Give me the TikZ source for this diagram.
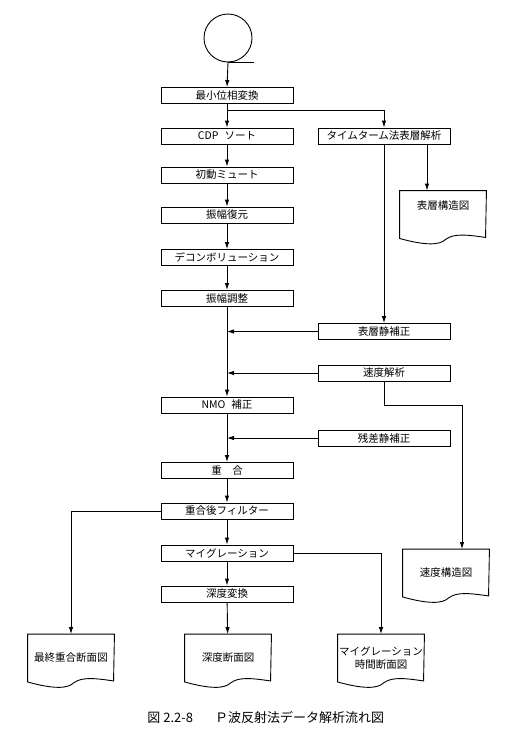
\documentclass[tikz,border=0pt]{standalone}
\usepackage{fontspec}
\newfontfamily\jp{Noto Sans CJK JP}
\usetikzlibrary{arrows.meta,calc}
\tikzset{
  arr/.style={-{Latex[length=7pt,width=4.5pt]}},
  procbox/.style={draw,minimum width=132pt,minimum height=16pt,inner sep=0pt,font=\jp\fontsize{10.5}{12}\selectfont},
  docn/.style={minimum width=86pt,minimum height=47pt,inner sep=0pt,font=\jp\fontsize{10.5}{13}\selectfont,align=center},
}
\newcommand{\docshape}[1]{%
  \draw (#1.south west) -- (#1.north west) -- (#1.north east) -- ($(#1.south west)+(86,-1)$)
    .. controls ($(#1.south west)+(66,-4)$) and ($(#1.south west)+(54,-5)$) .. ($(#1.south west)+(46,1)$)
    .. controls ($(#1.south west)+(40,7)$) and ($(#1.south west)+(25,7)$) .. (#1.south west) -- cycle;}
\begin{document}
\begin{tikzpicture}[x=1pt,y=-1pt,line width=0.9pt,font=\jp]
\useasboundingbox (0,0) rectangle (517,739);
% tape symbol
\node[draw,circle,minimum size=48pt,inner sep=0pt] (tape) at (228,38) {};
\draw (tape.south) -- ++(26,0);
% left column
\node[procbox] (minphase) at (227,95.5) {最小位相変換};
\node[procbox] (cdp) at (227,136) {CDP\hspace{6pt}ソート};
\node[procbox] (mute) at (227,175) {初動ミュート};
\node[procbox] (amp) at (227,215) {振幅復元};
\node[procbox] (decon) at (227,257.5) {デコンボリューション};
\node[procbox] (ampadj) at (227,298.5) {振幅調整};
\node[procbox] (nmo) at (227,405) {NMO\hspace{6pt}補正};
\node[procbox] (stack) at (227,470.5) {重　合};
\node[procbox] (filt) at (227,511) {重合後フィルター};
\node[procbox] (mig) at (227,553) {マイグレーション};
\node[procbox] (depth) at (227,594) {深度変換};
% right column
\node[procbox] (timeterm) at (384,136) {タイムターム法表層解析};
\node[procbox] (statics) at (384,331.5) {表層静補正};
\node[procbox] (vel) at (384,373) {速度解析};
\node[procbox] (resid) at (384,438) {残差静補正};
% documents
\node[docn] (surf) at (443,214.5) {表層構造図\\[6pt]};
\docshape{surf}
\node[docn] (velstruct) at (446,573) {速度構造図};
\docshape{velstruct}
\node[docn] (final) at (71,658) {最終重合断面図};
\docshape{final}
\node[docn] (depthsec) at (228,658) {深度断面図};
\docshape{depthsec}
\node[docn] (migsec) at (381,658) {マイグレーション\\時間断面図};
\docshape{migsec}
% connectors
\draw[arr] (tape.south) -- (minphase.north);
\coordinate (j1) at (227,110);
\draw (minphase.south) -- (j1);
\draw[arr] (j1) -- (cdp.north);
\draw[arr] (j1) -| (timeterm.north);
\draw[arr] (cdp) -- (mute);
\draw[arr] (mute) -- (amp);
\draw[arr] (amp) -- (decon);
\draw[arr] (decon) -- (ampadj);
\draw[arr] (ampadj) -- (nmo);
\draw[arr] (nmo) -- (stack);
\draw[arr] (stack) -- (filt);
\draw[arr] (filt) -- (mig);
\draw[arr] (mig) -- (depth);
\draw[arr] (depth) -- (depthsec);
\draw[arr] (timeterm.south) -- (statics.north);
\draw[arr] ([xshift=43pt]timeterm.south) -- ([xshift=-16pt]surf.north);
\draw[arr] (statics.west) -- (statics.west -| ampadj.south);
\draw[arr] (vel.west) -- (vel.west -| ampadj.south);
\draw[arr] (resid.west) -- (resid.west -| nmo.south);
\draw[arr] (vel.south) -- ++(0,24) -| ([xshift=16pt]velstruct.north);
\draw[arr] (filt.west) -| (final.north);
\draw[arr] (mig.east) -| (migsec.north);
% caption
\node[anchor=west,font=\jp\fontsize{13}{15}\selectfont,inner sep=0pt] (cap) at (147,717) {図 2.2-8\hspace{22pt}Ｐ波反射法データ解析流れ図};
\end{tikzpicture}
\end{document}
